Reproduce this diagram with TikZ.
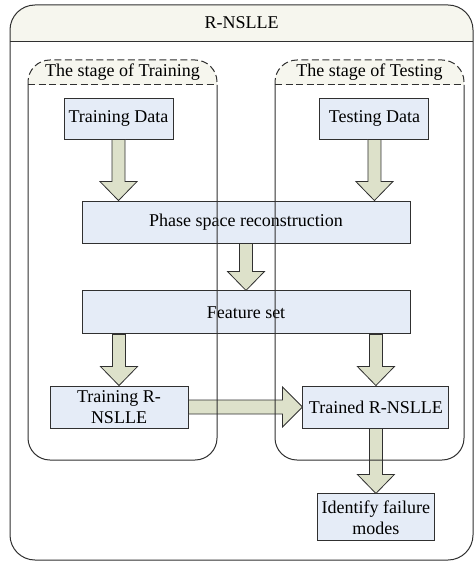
\documentclass[tikz,border=0pt]{standalone}
\usepackage{fontspec}
\setmainfont{Liberation Serif}
\usetikzlibrary{positioning,calc}
\definecolor{boxc}{HTML}{E5ECF7}
\definecolor{arrowc}{HTML}{DDE1CA}
\definecolor{headc}{HTML}{F6F6EE}
\definecolor{linec}{HTML}{303030}
\tikzset{
  stepbox/.style={draw=linec, fill=boxc, line width=0.9pt, inner sep=1pt,
    align=center, font=\fontsize{18}{21}\selectfont},
  heading/.style={font=\fontsize{18}{21}\selectfont, inner sep=1pt},
  fat/.style={draw=linec, fill=arrowc, line width=0.8pt, line join=miter},
  frame/.style={draw=linec, line width=1pt},
  halfdash/.style={dash pattern=on 7pt off 3.5pt}}
% block arrows: half shaft 6.5, half head 18.5, head length 19
\newcommand{\downblk}[2]{%
  \draw[fat] ($(#1)+(-6.5,0)$) -- ($(#2)+(-6.5,-19)$) -- ($(#2)+(-18.5,-19)$)
    -- (#2) -- ($(#2)+(18.5,-19)$) -- ($(#2)+(6.5,-19)$) -- ($(#1)+(6.5,0)$)
    -- cycle;}
\newcommand{\rightblk}[2]{%
  \draw[fat] ($(#1)+(0,-7)$) -- ($(#2)+(-20,-7)$) -- ($(#2)+(-20,-20)$)
    -- (#2) -- ($(#2)+(-20,20)$) -- ($(#2)+(-20,7)$) -- ($(#1)+(0,7)$)
    -- cycle;}

\begin{document}
\begin{tikzpicture}[x=1pt, y=-1pt]
  \useasboundingbox (0,0) rectangle (474,561);
  % ---- outer frame with its title band
  \begin{scope}
    \clip[rounded corners=25pt] (10,5) rectangle (473,560);
    \fill[headc] (10,5) rectangle (473,42);
  \end{scope}
  \draw[frame, rounded corners=25pt] (10,5) rectangle (473,560);
  \draw[frame] (10,42) -- (473,42);
  \node[heading] (title) at (241.5,23) {R-NSLLE};
  % ---- band fill of the two stages (outlines come last, over the boxes)
  \foreach \xa/\xb in {28/217, 275/464} {
    \begin{scope}
      \clip[rounded corners=22pt] (\xa,60) rectangle (\xb,460);
      \fill[headc] (\xa,60) rectangle (\xb,85);
    \end{scope}
  }
  \node[heading] (trainstage) at (122.5,72.5) {The stage of Training};
  \node[heading] (teststage) at (369.5,72.5) {The stage of Testing};
  % ---- the steps
  \node[stepbox, minimum width=109pt, minimum height=41pt] (TrainData)
    at (118.5,118.5) {Training Data};
  \node[stepbox, minimum width=109pt, minimum height=41pt,
    right=146pt of TrainData] (TestData) {Testing Data};
  \node[stepbox, minimum width=328pt, minimum height=42pt] (Phase)
    at (246,222) {Phase space reconstruction};
  \node[stepbox, minimum width=328pt, minimum height=43pt,
    below=47pt of Phase] (Feature) {Feature set};
  \node[stepbox, minimum width=138pt, minimum height=42pt] (TrainRN)
    at (119,407) {Training R-\\NSLLE};
  \node[stepbox, minimum width=146pt, minimum height=42pt,
    right=114pt of TrainRN] (TrainedRN) {Trained R-NSLLE};
  \node[stepbox, minimum width=117pt, minimum height=47pt,
    below=65pt of TrainedRN] (Identify) {Identify failure\\modes};
  % ---- block arrows
  \downblk{TrainData.south}{TrainData.south |- Phase.north}
  \downblk{TestData.south}{TestData.south |- Phase.north}
  \downblk{Phase.south}{Feature.north}
  \downblk{TrainRN.north |- Feature.south}{TrainRN.north}
  \downblk{TrainedRN.north |- Feature.south}{TrainedRN.north}
  \downblk{TrainedRN.south}{Identify.north}
  \rightblk{TrainRN.east}{TrainedRN.west |- TrainRN.east}
  % ---- stage outlines, drawn over everything
  \foreach \xa/\xb in {28/217, 275/464} {
    \draw[frame, halfdash, rounded corners=22pt]
      (\xa,85) -- (\xa,60) -- (\xb,60) -- (\xb,85);
    \draw[frame, halfdash] (\xa,85) -- (\xb,85);
    \draw[frame, rounded corners=22pt]
      (\xa,85) -- (\xa,460) -- (\xb,460) -- (\xb,85);
  }
\end{tikzpicture}
\end{document}
